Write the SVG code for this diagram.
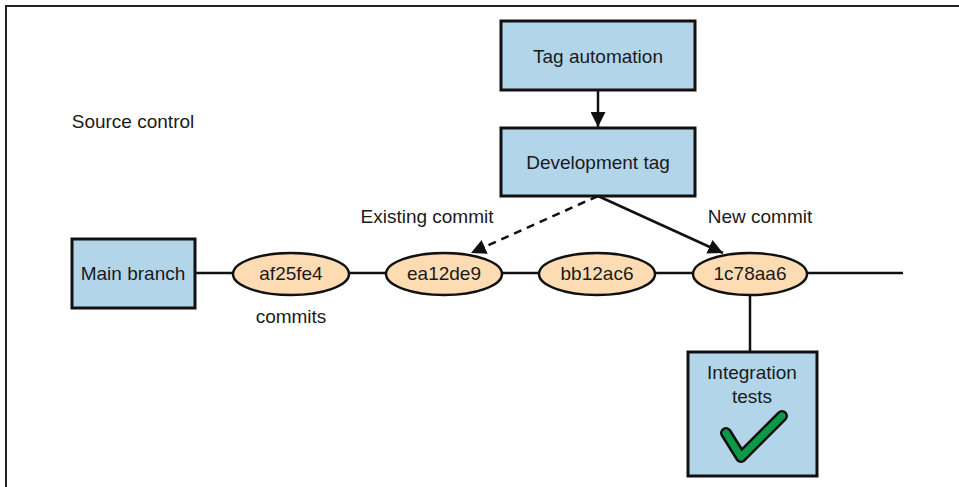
<svg xmlns="http://www.w3.org/2000/svg" width="959" height="487" viewBox="0 0 959 487">
<defs>
<style>
text{font-family:"Liberation Sans","Noto Sans",sans-serif;font-size:19px;fill:#1a1a1a;text-anchor:middle;dominant-baseline:central}
.box{fill:#b3d5ea;stroke:#111;stroke-width:3}
.commit{fill:#fddcb4;stroke:#111;stroke-width:2.5}
.ln{stroke:#111;stroke-width:2.5;fill:none}
</style>
<marker id="ah" viewBox="0 0 10 10" refX="10" refY="5" markerWidth="6" markerHeight="6" orient="auto" markerUnits="strokeWidth">
<path d="M0,0 L10,5 L0,10 z" fill="#111"/>
</marker>
</defs>
<rect width="959" height="487" fill="#fff"/>
<path d="M6,487 V6 H959" fill="none" stroke="#222" stroke-width="2"/>
<text x="133" y="121">Source control</text>
<g id="connectors">
<line class="ln" x1="195" y1="273" x2="903" y2="273"/>
<line class="ln" x1="750" y1="294" x2="750" y2="352"/>
<line class="ln" x1="598" y1="90" x2="598" y2="127" marker-end="url(#ah)"/>
<line class="ln" x1="598" y1="196" x2="471" y2="253" stroke-dasharray="8,6" marker-end="url(#ah)"/>
<line class="ln" x1="598" y1="196" x2="723" y2="253" marker-end="url(#ah)"/>
</g>
<g id="tag-automation"><rect class="box" x="501" y="21" width="194" height="69"/><text x="598" y="56">Tag automation</text></g>
<g id="development-tag"><rect class="box" x="501" y="128" width="194" height="68"/><text x="598" y="162">Development tag</text></g>
<g id="main-branch"><rect class="box" x="72" y="239" width="123" height="69"/><text x="133" y="273">Main branch</text></g>
<g id="c-af25fe4"><ellipse class="commit" cx="291" cy="274" rx="58" ry="21"/><text x="291" y="273">af25fe4</text></g>
<text x="291" y="316">commits</text>
<g id="c-ea12de9"><ellipse class="commit" cx="444" cy="274" rx="58" ry="21"/><text x="444" y="273">ea12de9</text></g>
<g id="c-bb12ac6"><ellipse class="commit" cx="597" cy="274" rx="58" ry="21"/><text x="597" y="273">bb12ac6</text></g>
<g id="c-1c78aa6"><ellipse class="commit" cx="750" cy="274" rx="57" ry="21"/><text x="750" y="273">1c78aa6</text></g>
<text x="427" y="216">Existing commit</text>
<text x="760" y="216">New commit</text>
<g id="integration-tests"><rect class="box" x="688" y="352" width="129" height="124"/>
<text x="752" y="372">Integration</text><text x="752" y="396">tests</text>
<path d="M726,433 L741,457 L782,416" fill="none" stroke="#111" stroke-width="12" stroke-linecap="round" stroke-linejoin="round"/>
<path d="M726,433 L741,457 L782,416" fill="none" stroke="#0c9a48" stroke-width="7" stroke-linecap="round" stroke-linejoin="round"/>
</g>
</svg>
